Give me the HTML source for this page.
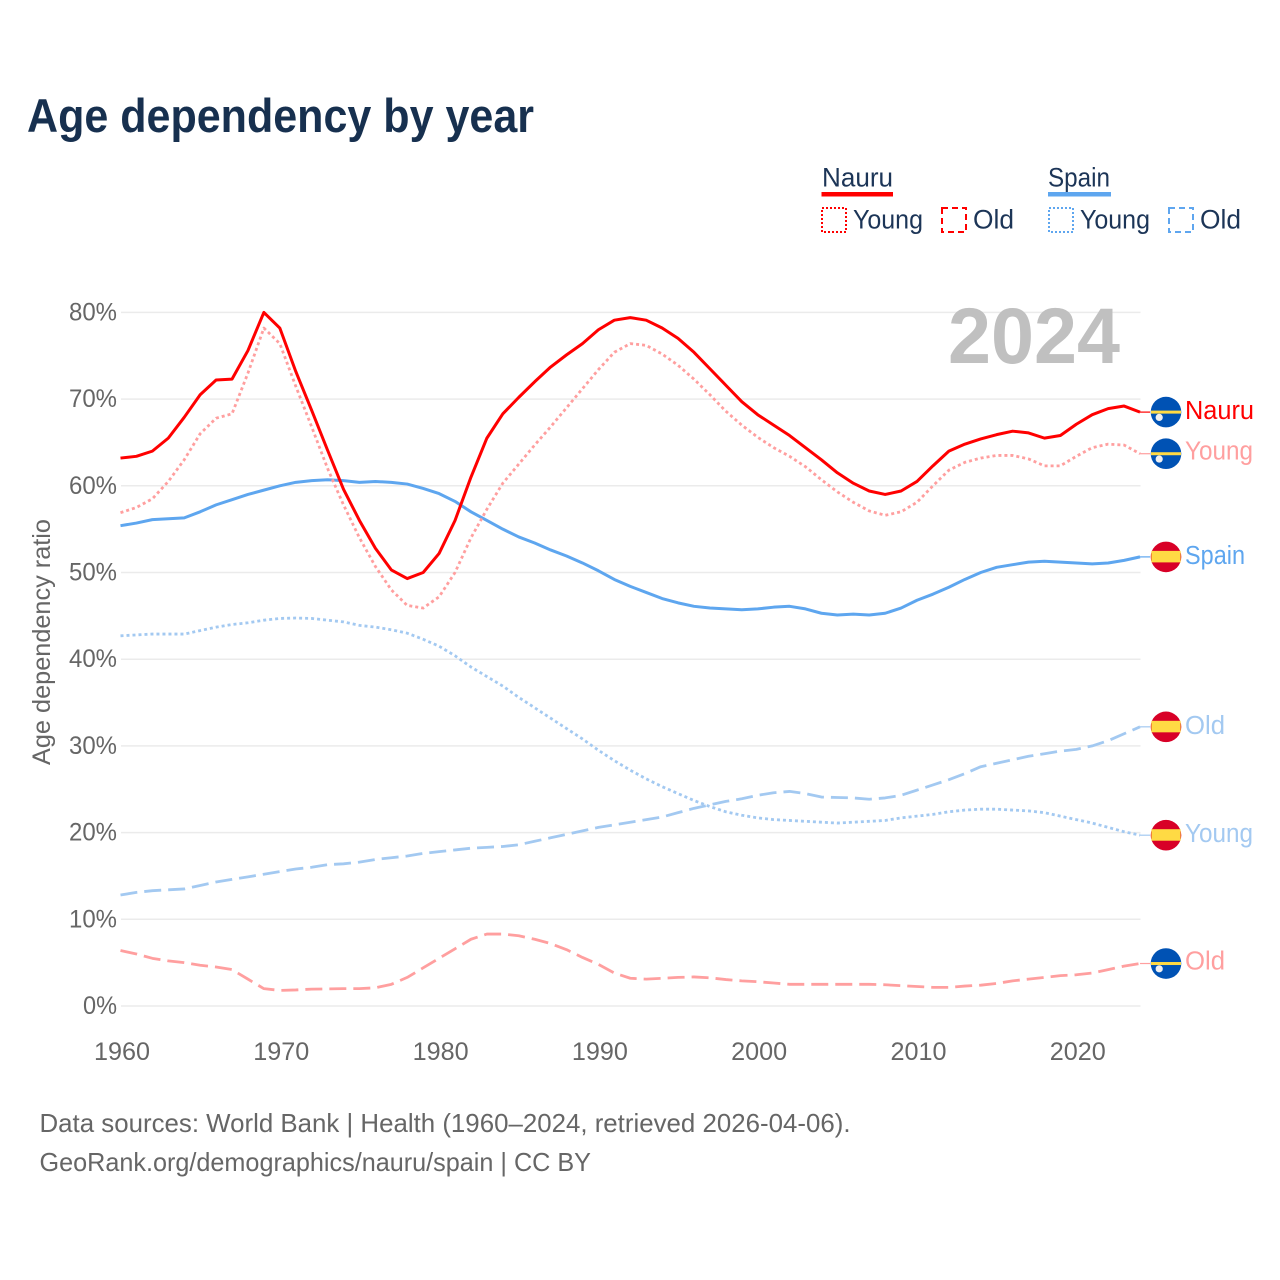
<!DOCTYPE html>
<html lang="en">
<head>
<meta charset="utf-8">
<title>Age dependency by year</title>
<style>
  html, body { margin: 0; padding: 0; background: #fff; }
  svg { display: block; font-family: "Liberation Sans", sans-serif; }
</style>
</head>
<body>
<svg id="chart" xmlns="http://www.w3.org/2000/svg" width="1280" height="1280" viewBox="0 0 1280 1280">
  <rect x="0" y="0" width="1280" height="1280" fill="#fff"/>
  <text x="27" y="132" font-size="47" font-weight="700" fill="#17304f" textLength="507" lengthAdjust="spacingAndGlyphs">Age dependency by year</text>

  <g font-size="27" fill="#1c3557">
    <text x="822" y="186.5" textLength="71" lengthAdjust="spacingAndGlyphs">Nauru</text>
    <rect x="821.5" y="192" width="71.5" height="4.5" fill="#ff0000"/>
    <rect x="822" y="208" width="24" height="24" fill="none" stroke="#ff0000" stroke-width="2" stroke-dasharray="2 2"/>
    <text x="853" y="228.5" textLength="70" lengthAdjust="spacingAndGlyphs">Young</text>
    <rect x="942" y="208" width="24" height="24" fill="none" stroke="#ff0000" stroke-width="2" stroke-dasharray="6 4"/>
    <text x="973" y="228.5" textLength="41" lengthAdjust="spacingAndGlyphs">Old</text>

    <text x="1048" y="186.5" textLength="62" lengthAdjust="spacingAndGlyphs">Spain</text>
    <rect x="1048" y="192" width="63" height="4.5" fill="#5ea6ef"/>
    <rect x="1049" y="208" width="24" height="24" fill="none" stroke="#5ea6ef" stroke-width="2" stroke-dasharray="2 2"/>
    <text x="1080" y="228.5" textLength="70" lengthAdjust="spacingAndGlyphs">Young</text>
    <rect x="1169" y="208" width="24" height="24" fill="none" stroke="#5ea6ef" stroke-width="2" stroke-dasharray="6 4"/>
    <text x="1200" y="228.5" textLength="41" lengthAdjust="spacingAndGlyphs">Old</text>
  </g>

  <g id="grid"></g>
  <g id="yticks" font-size="25" fill="#666"></g>
  <g id="xticks" font-size="25" fill="#666"></g>
  <text transform="translate(50,765) rotate(-90)" font-size="25" fill="#666" textLength="246" lengthAdjust="spacingAndGlyphs">Age dependency ratio</text>
  <text x="948" y="363" font-size="79" font-weight="700" fill="#c0c0c0" textLength="172" lengthAdjust="spacingAndGlyphs">2024</text>

  <g id="series"></g>
  <g id="endlabels"></g>

  <g font-size="26" fill="#666">
    <text x="39.5" y="1132" textLength="811" lengthAdjust="spacingAndGlyphs">Data sources: World Bank | Health (1960–2024, retrieved 2026-04-06).</text>
    <text x="39.5" y="1171" textLength="551.5" lengthAdjust="spacingAndGlyphs">GeoRank.org/demographics/nauru/spain | CC BY</text>
  </g>
</svg>
<script>
const startYear = 1960;
const xTickLabels = ["1960", "1970", "1980", "1990", "2000", "2010", "2020"];
const yTickValues = [0, 10, 20, 30, 40, 50, 60, 70, 80];

const nauruTotal = [63.2,63.4,64.0,65.5,67.9,70.5,72.2,72.3,75.6,80.0,78.2,73.2,68.7,64.1,59.6,56.0,52.8,50.3,49.3,50.0,52.2,56.0,61.0,65.5,68.3,70.2,72.0,73.7,75.1,76.4,78.0,79.1,79.4,79.1,78.2,77.0,75.4,73.5,71.6,69.7,68.2,67.0,65.8,64.4,63.0,61.5,60.3,59.4,59.0,59.4,60.5,62.3,64.0,64.8,65.4,65.9,66.3,66.1,65.5,65.8,67.1,68.2,68.9,69.2,68.5];
const nauruYoung = [56.9,57.5,58.5,60.5,63.0,66.0,67.8,68.3,73.0,78.2,76.4,71.5,66.8,62.0,57.8,54.0,50.7,48.0,46.2,45.9,47.2,50.0,54.0,57.3,60.3,62.5,64.7,66.8,69.0,71.2,73.4,75.4,76.4,76.2,75.2,73.9,72.3,70.5,68.6,67.0,65.6,64.4,63.4,62.2,60.7,59.3,58.1,57.1,56.6,57.0,58.1,60.0,61.8,62.7,63.2,63.5,63.5,63.1,62.3,62.3,63.4,64.4,64.8,64.7,63.7];
const nauruOld = [6.4,6.0,5.5,5.2,5.0,4.7,4.5,4.2,3.1,2.0,1.8,1.85,1.95,1.97,2.0,2.0,2.1,2.5,3.3,4.4,5.5,6.6,7.7,8.3,8.3,8.1,7.7,7.2,6.5,5.6,4.8,3.8,3.2,3.1,3.2,3.3,3.35,3.25,3.05,2.9,2.8,2.65,2.5,2.5,2.5,2.5,2.5,2.5,2.45,2.35,2.25,2.15,2.15,2.3,2.4,2.6,2.9,3.1,3.3,3.5,3.6,3.8,4.2,4.6,4.9];
const spainTotal = [55.4,55.7,56.1,56.2,56.3,57.0,57.8,58.4,59.0,59.5,60.0,60.4,60.6,60.7,60.6,60.4,60.5,60.4,60.2,59.7,59.1,58.2,57.0,56.0,55.0,54.1,53.4,52.6,51.9,51.1,50.2,49.2,48.4,47.7,47.0,46.5,46.1,45.9,45.8,45.7,45.8,46.0,46.1,45.8,45.3,45.1,45.2,45.1,45.3,45.9,46.8,47.5,48.3,49.2,50.0,50.6,50.9,51.2,51.3,51.2,51.1,51.0,51.1,51.4,51.8];
const spainYoung = [42.7,42.8,42.9,42.9,42.9,43.3,43.7,44.0,44.2,44.5,44.7,44.75,44.7,44.5,44.3,43.9,43.7,43.4,43.0,42.3,41.5,40.4,39.1,38.0,36.9,35.6,34.4,33.2,32.0,30.8,29.5,28.3,27.2,26.2,25.3,24.5,23.7,23.0,22.4,22.0,21.7,21.5,21.4,21.3,21.2,21.1,21.2,21.3,21.4,21.7,21.9,22.1,22.4,22.6,22.7,22.7,22.6,22.5,22.3,21.9,21.5,21.1,20.6,20.1,19.7];
const spainOld = [12.8,13.1,13.3,13.4,13.5,13.9,14.3,14.6,14.9,15.2,15.5,15.8,16.0,16.3,16.4,16.6,16.9,17.1,17.3,17.6,17.8,18.0,18.2,18.3,18.4,18.6,19.0,19.4,19.8,20.2,20.6,20.9,21.2,21.5,21.8,22.3,22.8,23.2,23.6,23.9,24.3,24.6,24.75,24.5,24.1,24.05,24.0,23.85,24.0,24.3,24.9,25.5,26.1,26.8,27.6,28.0,28.4,28.8,29.1,29.4,29.6,30.0,30.6,31.4,32.2];

const NS = "http://www.w3.org/2000/svg";
const xScale = function (year) { return 120.5 + (year - 1960) * 15.93; };
const yScale = function (pct) { return 1006 - pct * 8.67; };

function make(tag, attrs, parent) {
  const el = document.createElementNS(NS, tag);
  for (const k in attrs) el.setAttribute(k, attrs[k]);
  parent.appendChild(el);
  return el;
}
function tickWidth(label) {
  return label.replace("%", "").length * 14 + (label.indexOf("%") >= 0 ? 20 : 0);
}

const gridGroup = document.getElementById("grid");
const yTickGroup = document.getElementById("yticks");
yTickValues.forEach(function (v) {
  const line = make("line", { x1: 121, x2: 1140.5, y1: yScale(v), y2: yScale(v), stroke: "#ebebeb", "stroke-width": 1.5 }, gridGroup);
  
  
  const label = v + "%";
  const t = make("text", { x: 117, y: yScale(v) + 8, "text-anchor": "end", textLength: tickWidth(label), lengthAdjust: "spacingAndGlyphs" }, yTickGroup);
  t.textContent = label;
  
  
});

const xTickGroup = document.getElementById("xticks");
xTickLabels.forEach(function (label) {
  const t = make("text", { x: xScale(Number(label)) + 1.5, y: 1060, "text-anchor": "middle", textLength: tickWidth(label), lengthAdjust: "spacingAndGlyphs" }, xTickGroup);
  t.textContent = label;
  
  
});

const seriesGroup = document.getElementById("series");
const labelGroup = document.getElementById("endlabels");

function drawSeries(key, values, color, width, dash, endLabel, labelW, country, labelOffset) {
  const pts = values.map(function (v, i) {
    return xScale(startYear + i).toFixed(2) + "," + yScale(v).toFixed(2);
  }).join(" ");
  const line = make("polyline", { points: pts, fill: "none", stroke: color, "stroke-width": width, "stroke-linejoin": "round" }, seriesGroup);
  if (dash) line.setAttribute("stroke-dasharray", dash);
  
  

  const last = values[values.length - 1];
  const lastX = xScale(startYear + values.length - 1);
  const cy = yScale(last);

  const conn = make("line", { x1: lastX, x2: 1150, y1: cy, y2: cy, stroke: color, "stroke-width": 1.2 }, labelGroup);
  
  

  const flag = make("g", { transform: "translate(1166," + cy + ")" }, labelGroup);
  
  
  if (country === "nauru") {
    make("circle", { cx: 0, cy: 0, r: 15.3, fill: "#0052b4" }, flag);
    make("rect", { x: -15, y: -1.5, width: 30, height: 3, fill: "#ffda44" }, flag);
    make("circle", { cx: -6.8, cy: 5.3, r: 3.6, fill: "#f0f0f0" }, flag);
  } else {
    make("circle", { cx: 0, cy: 0, r: 15.3, fill: "#d80027" }, flag);
    make("rect", { x: -14.6, y: -6, width: 29.2, height: 11.5, fill: "#ffda44" }, flag);
  }

  const t = make("text", { x: 1185, y: cy + labelOffset, "font-size": 25.5, fill: color, textLength: labelW, lengthAdjust: "spacingAndGlyphs" }, labelGroup);
  t.textContent = endLabel;
  
  
}

const DOTS = "3 3";
const DASH = "17 7";
drawSeries("spain-old", spainOld, "#a3c9f1", 2.8, DASH, "Old", 40, "spain", 7);
drawSeries("spain-young", spainYoung, "#a3c9f1", 2.8, DOTS, "Young", 68, "spain", 7);
drawSeries("spain-total", spainTotal, "#5ea6ef", 3, null, "Spain", 60, "spain", 7);
drawSeries("nauru-old", nauruOld, "#ff9f9f", 2.8, DASH, "Old", 40, "nauru", 6);
drawSeries("nauru-young", nauruYoung, "#ff9f9f", 2.8, DOTS, "Young", 68, "nauru", 6);
drawSeries("nauru-total", nauruTotal, "#ff0000", 3, null, "Nauru", 69, "nauru", 7);
</script>
</body>
</html>
